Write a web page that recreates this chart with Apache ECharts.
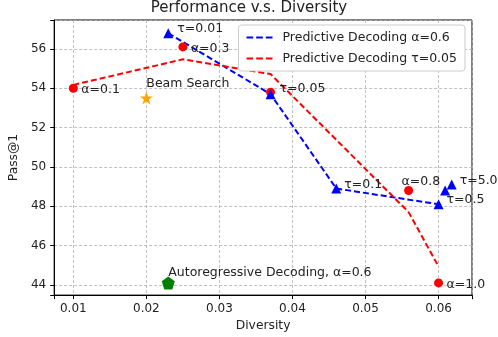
<!DOCTYPE html>
<html><head><meta charset="utf-8">
<script src="https://cdn.jsdelivr.net/npm/echarts@6/dist/echarts.min.js"></script>
<style>html,body{margin:0;padding:0;background:#fff}#c{width:498px;height:337px}</style>
</head><body><div id="c"></div>
<script>
// ---- data ----
const tauDiversity = [0.023, 0.037, 0.046, 0.060, 0.0609, 0.0618];
const tauPass      = [56.8, 53.7, 48.9, 48.1, 48.8, 49.1];
const tauLabels    = ['τ=0.01', 'τ=0.05', 'τ=0.1', 'τ=0.5', '', 'τ=5.0'];
const tauLineDiversity = [0.023, 0.037, 0.046, 0.060];
const tauLinePass      = [56.8, 53.7, 48.9, 48.1];

const alphaDiversity = [0.010, 0.025, 0.037, 0.0559, 0.060];
const alphaPass      = [54.0, 56.1, 53.8, 48.8, 44.1];
const alphaLabels    = ['α=0.1', 'α=0.3', '', 'α=0.8', 'α=1.0'];
const alphaTrendDiversity = [0.010, 0.025, 0.037, 0.0559, 0.060];
const alphaTrendPass      = [54.17, 55.47, 54.72, 47.7, 44.93];

const beamSearch = [0.020, 53.5];
const autoregressive = [0.023, 44.1];

const xTickValues = [0.01, 0.02, 0.03, 0.04, 0.05, 0.06];
const yTickValues = [44, 46, 48, 50, 52, 54, 56];

// ---- styles (not data) ----
const tauLabelOffsets = [[9,-4],[9,-5],[8,-4],[8,-5],[0,0],[8,-4]];
const alphaLabelOffsets = [[8,2],[8,2],[0,0],[-7,-9],[8,2]];
const FONT = 'DejaVu Sans';
const TXT = '#222';
const dashIcon = 'path://M0,0h6.7v2h-6.7zM9.7,0h6.7v2h-6.7zM19.4,0h6.7v2h-6.7z';

const starPath = 'path://M0,-1 L0.2245,-0.309 L0.951,-0.309 L0.3633,0.118 L0.5878,0.809 L0,0.382 L-0.5878,0.809 L-0.3633,0.118 L-0.951,-0.309 L-0.2245,-0.309 Z';
const pentPath = 'path://M0,-1 L0.951,-0.309 L0.588,0.809 L-0.588,0.809 L-0.951,-0.309 Z';

function near(list, v){ return list.some(t => Math.abs(t - v) < 1e-6); }

function labelled(xs, ys, labels, offsets){
  return xs.map((x,i)=>({
    value:[x, ys[i]],
    label:{show: !!labels[i], formatter: labels[i], position:'inside', align:'left', verticalAlign:'middle',
           offset: offsets[i], color: TXT, fontSize: 12.5, fontFamily: FONT}
  }));
}

const chart = echarts.init(document.getElementById('c'), null, {renderer:'canvas'});
chart.setOption({
  animation:false,
  backgroundColor:'#fff',
  title:{text:'Performance v.s. Diversity', left:'center', top:1, padding:0,
    textStyle:{fontFamily:FONT, fontSize:15, fontWeight:'normal', color:TXT}},
  grid:{left:51, right:26, top:20, bottom:38, show:true, borderColor:'#000', borderWidth:1, containLabel:false},
  legend:{
    orient:'vertical', right:33, top:25, padding:[6,8,6,8], itemGap:8,
    itemWidth:26, itemHeight:2,
    backgroundColor:'#fff', borderColor:'#ccc', borderWidth:1, borderRadius:3,
    textStyle:{fontFamily:FONT, fontSize:12.5, color:TXT, padding:[0,0,0,5]},
    data:[{name:'Predictive Decoding α=0.6', icon:dashIcon},{name:'Predictive Decoding τ=0.05', icon:dashIcon}]
  },
  xAxis:{
    type:'value', min:0.00738, max:0.06458, minInterval:0.01, maxInterval:0.01,
    name:'Diversity', nameLocation:'middle', nameGap:24,
    nameTextStyle:{fontFamily:FONT, fontSize:12.3, color:TXT},
    axisLine:{lineStyle:{color:'#000', width:1}},
    axisTick:{show:true, length:4, lineStyle:{color:'#000'}},
    axisLabel:{margin:8, fontFamily:FONT, fontSize:12, color:TXT,
      formatter:v => near(xTickValues, v) ? v.toFixed(2) : ''},
    splitLine:{show:true, lineStyle:{color:'#b0b0b0', type:[3,2], width:0.8}}
  },
  yAxis:{
    type:'value', min:43.48, max:57.47, minInterval:2, maxInterval:2,
    name:'Pass@1', nameLocation:'middle', nameGap:30,
    nameTextStyle:{fontFamily:FONT, fontSize:12.3, color:TXT},
    axisLine:{show:true, lineStyle:{color:'#000', width:1}},
    axisTick:{show:true, length:4, lineStyle:{color:'#000'}},
    axisLabel:{margin:8, fontFamily:FONT, fontSize:12, color:TXT,
      formatter:v => near(yTickValues, v) ? String(Math.round(v)) : ''},
    splitLine:{show:true, lineStyle:{color:'#b0b0b0', type:[3,2], width:0.8}}
  },
  series:[
    {name:'Predictive Decoding α=0.6', type:'line', symbol:'none', z:3,
     data: tauLineDiversity.map((x,i)=>[x, tauLinePass[i]]),
     lineStyle:{color:'#0000ff', width:2, type:[6,3]}, itemStyle:{color:'#0000ff'}},
    {name:'Predictive Decoding τ=0.05', type:'line', symbol:'none', z:3,
     data: alphaTrendDiversity.map((x,i)=>[x, alphaTrendPass[i]]),
     lineStyle:{color:'#ff0000', width:2, type:[6,3]}, itemStyle:{color:'#ff0000'}},
    {name:'alpha points', type:'scatter', symbol:'circle', symbolSize:9, z:4,
     itemStyle:{color:'#ff0000', opacity:1},
     data: labelled(alphaDiversity, alphaPass, alphaLabels, alphaLabelOffsets)},
    {name:'tau points', type:'scatter', symbol:'triangle', symbolSize:10, z:5,
     itemStyle:{color:'#0000ff', opacity:1},
     data: labelled(tauDiversity, tauPass, tauLabels, tauLabelOffsets)},
    {name:'Beam Search', type:'scatter', symbol:starPath, symbolSize:13, z:5,
     itemStyle:{color:'#ffa500', opacity:1},
     data: labelled([beamSearch[0]],[beamSearch[1]],['Beam Search'],[[0,-14]])},
    {name:'Autoregressive', type:'scatter', symbol:pentPath, symbolSize:13, z:5,
     itemStyle:{color:'#008000', opacity:1},
     data: labelled([autoregressive[0]],[autoregressive[1]],['Autoregressive Decoding, α=0.6'],[[0,-10]])}
  ]
});
</script></body></html>
